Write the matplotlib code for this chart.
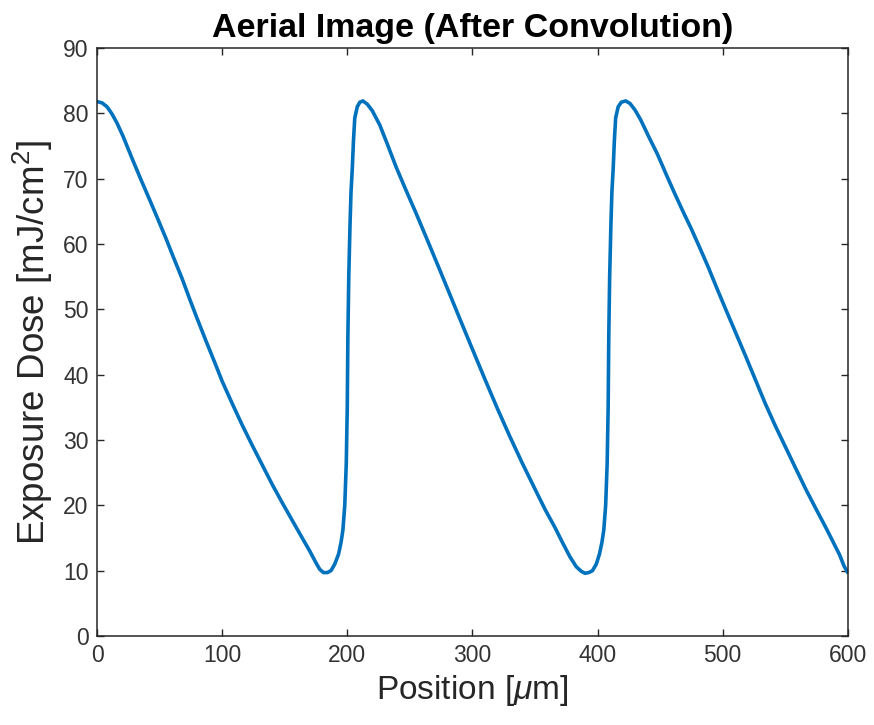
import matplotlib
matplotlib.use("Agg")
import matplotlib.pyplot as plt

plt.rcParams['font.family'] = ['Liberation Sans', 'DejaVu Sans']
plt.rcParams['mathtext.fontset'] = 'custom'
plt.rcParams['mathtext.rm'] = 'Liberation Sans'
plt.rcParams['mathtext.it'] = 'Liberation Sans:italic'
plt.rcParams['mathtext.bf'] = 'Liberation Sans:bold'

position_um = [
    0, 4, 8, 12, 16, 21, 28, 35, 42, 48, 55, 61, 68, 74, 80, 87, 94, 100,
    108, 116, 124, 132, 140, 148, 156, 164, 170, 175, 178, 181, 184, 187,
    190, 193, 195, 196.5, 198, 199.2, 200, 200.5, 201.2, 202.2, 203, 204,
    205, 206, 208, 210, 212.5, 216, 220, 226, 232, 239, 247, 255, 264, 274,
    283, 292, 300, 310, 320, 330, 340, 350, 358, 366, 372, 378, 383, 387,
    390, 393, 396, 399, 401.5, 403.5, 405, 406.5, 407.7, 408.5, 409, 409.7,
    410.7, 411.5, 412.5, 413.5, 414.5, 416.5, 419, 422.5, 426, 430, 434.5,
    441, 448, 455, 461.5, 468, 475, 482, 488.4, 495, 502, 510, 518, 526,
    534, 542, 550, 558, 566.6, 575, 582.7, 588, 593.5, 597, 600,
]
dose_mj_cm2 = [
    81.8, 81.6, 81.0, 79.9, 78.5, 76.4, 73.1, 69.9, 66.8, 64.1, 60.9, 58.0,
    54.7, 51.6, 48.6, 45.2, 41.9, 39.0, 35.6, 32.3, 29.2, 26.2, 23.2, 20.4,
    17.7, 15.0, 13.0, 11.2, 10.2, 9.7, 9.7, 10.0, 11.0, 12.5, 14.3, 16.2,
    20.0, 26.4, 35.0, 46.0, 55.0, 63.0, 68.0, 71.5, 76.0, 79.3, 81.0, 81.7,
    81.9, 81.4, 80.4, 78.2, 75.3, 71.8, 68.2, 64.7, 60.6, 56.0, 51.8, 47.6,
    43.9, 39.3, 34.8, 30.5, 26.4, 22.5, 19.4, 16.6, 14.3, 12.1, 10.6, 9.9,
    9.6, 9.7, 10.0, 11.0, 12.5, 14.3, 16.2, 20.0, 26.4, 35.0, 46.0, 55.0,
    63.0, 68.0, 71.5, 76.0, 79.3, 81.0, 81.7, 81.9, 81.5, 80.5, 79.0, 76.4,
    73.7, 70.6, 67.8, 65.1, 62.3, 59.3, 56.5, 53.4, 50.2, 46.6, 43.0, 39.3,
    35.6, 32.2, 29.0, 25.8, 22.4, 19.3, 16.5, 14.5, 12.4, 10.7, 9.7,
]
x_ticks = [0, 100, 200, 300, 400, 500, 600]
y_ticks = [0, 10, 20, 30, 40, 50, 60, 70, 80, 90]

fig = plt.figure(figsize=(8.74, 7.25), dpi=100)
ax = fig.add_axes([0.111, 0.1228, 0.859, 0.811])
ax.plot(position_um, dose_mj_cm2, color='#0072BD', linewidth=2.6,
        solid_joinstyle='round', solid_capstyle='round')
ax.set_xlim(0, 600)
ax.set_ylim(0, 90)
ax.set_xticks(x_ticks)
ax.set_yticks(y_ticks)
axcol = '#262626'
for s in ax.spines.values():
    s.set_color(axcol)
    s.set_linewidth(1.1)
ax.tick_params(direction='in', length=5, width=1.0, colors=axcol,
               labelsize=16.5, top=True, right=True, labelcolor='#333333', pad=6)
ax.set_xlabel(r'Position [$\mu$m]', fontsize=24, color=axcol, labelpad=4)
ax.set_ylabel(r'Exposure Dose [mJ/cm$^2$]', fontsize=26.5, color=axcol, labelpad=6)
ax.set_title('Aerial Image (After Convolution)', fontsize=24.5, fontweight='bold',
             color='black', pad=8)
fig.savefig('out.png', dpi=100)
